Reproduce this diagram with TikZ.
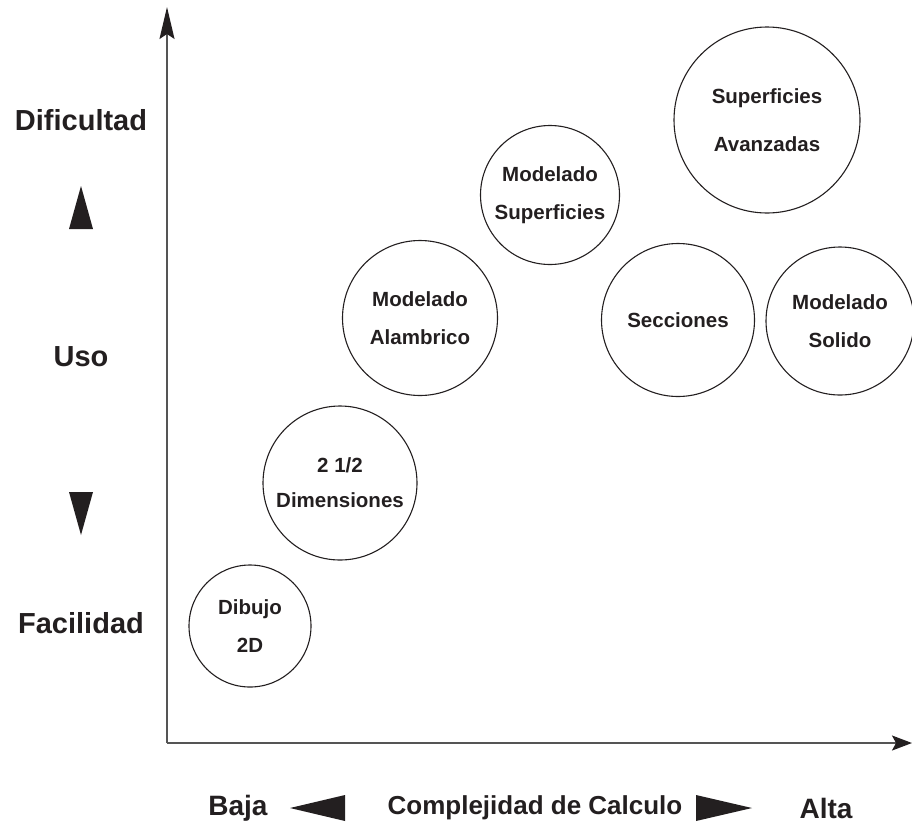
\documentclass[tikz,border=0pt]{standalone}
\usepackage{fontspec}
\setmainfont{Liberation Sans}
\usetikzlibrary{arrows.meta}
\definecolor{ink}{HTML}{231F20}
\definecolor{axisgray}{HTML}{555555}
\tikzset{
  bubble/.style={circle, draw=ink, line width=1.1pt, inner sep=0pt, align=center,
    font=\bfseries\fontsize{20.5}{24}\selectfont, text=ink},
  sidelabel/.style={font=\bfseries\fontsize{29}{32}\selectfont, text=ink, inner sep=0pt},
  botlabel/.style={font=\bfseries\fontsize{26}{30}\selectfont, text=ink, inner sep=0pt},
  endlabel/.style={font=\bfseries\fontsize{28}{30}\selectfont, text=ink, inner sep=0pt},
  axisline/.style={draw=axisgray, line width=1.6pt},
  tri/.style={fill=ink, draw=none}
}
\begin{document}
\begin{tikzpicture}[x=1pt,y=-1pt]
\useasboundingbox (0,0) rectangle (912,828);
% axes
\coordinate (O) at (167,743);
\coordinate (ytop) at (167,7);
\coordinate (xend) at (912,743);
\draw[axisline, -{Stealth[length=32pt,width=15pt,inset=5pt,fill=ink,color=ink]}] (O) -- (ytop);
\draw[axisline, -{Stealth[length=20pt,width=15pt,inset=4pt,fill=ink,color=ink]}] (O) -- (xend);
% bubbles
\node[bubble, minimum size=122pt] (dib) at (250,626) {Dibujo\\[14pt]2D};
\node[bubble, minimum size=154pt] (dim) at (340,483) {2 1/2\\[11pt]Dimensiones};
\node[bubble, minimum size=155pt] (ala) at (420,318) {Modelado\\[14pt]Alambrico};
\node[bubble, minimum size=139pt] (sup) at (550,195) {Modelado\\[14pt]Superficies};
\node[bubble, minimum size=153pt] (sec) at (678,320) {Secciones};
\node[bubble, minimum size=148pt] (sol) at (840,321) {Modelado\\[14pt]Solido};
\node[bubble, minimum size=186pt] (ava) at (767,120) {Superficies\\[24pt]Avanzadas};
% left labels
\node[sidelabel] (dif) at (81,120) {Dificultad};
\node[sidelabel] (uso) at (81,357) {Uso};
\node[sidelabel] (fac) at (81,623) {Facilidad};
\fill[tri] (81,186) -- (93,229) -- (69,229) -- cycle;
\fill[tri] (69,492) -- (93,492) -- (81,535) -- cycle;
% bottom labels
\node[endlabel] (baja) at (238,808) {Baja};
\node[botlabel] (comp) at (535,808) {Complejidad de Calculo};
\node[endlabel] (alta) at (826,808) {Alta};
\fill[tri] (290,808) -- (345,795) -- (345,821) -- cycle;
\fill[tri] (696,795) -- (752,808) -- (696,821) -- cycle;
\end{tikzpicture}
\end{document}
